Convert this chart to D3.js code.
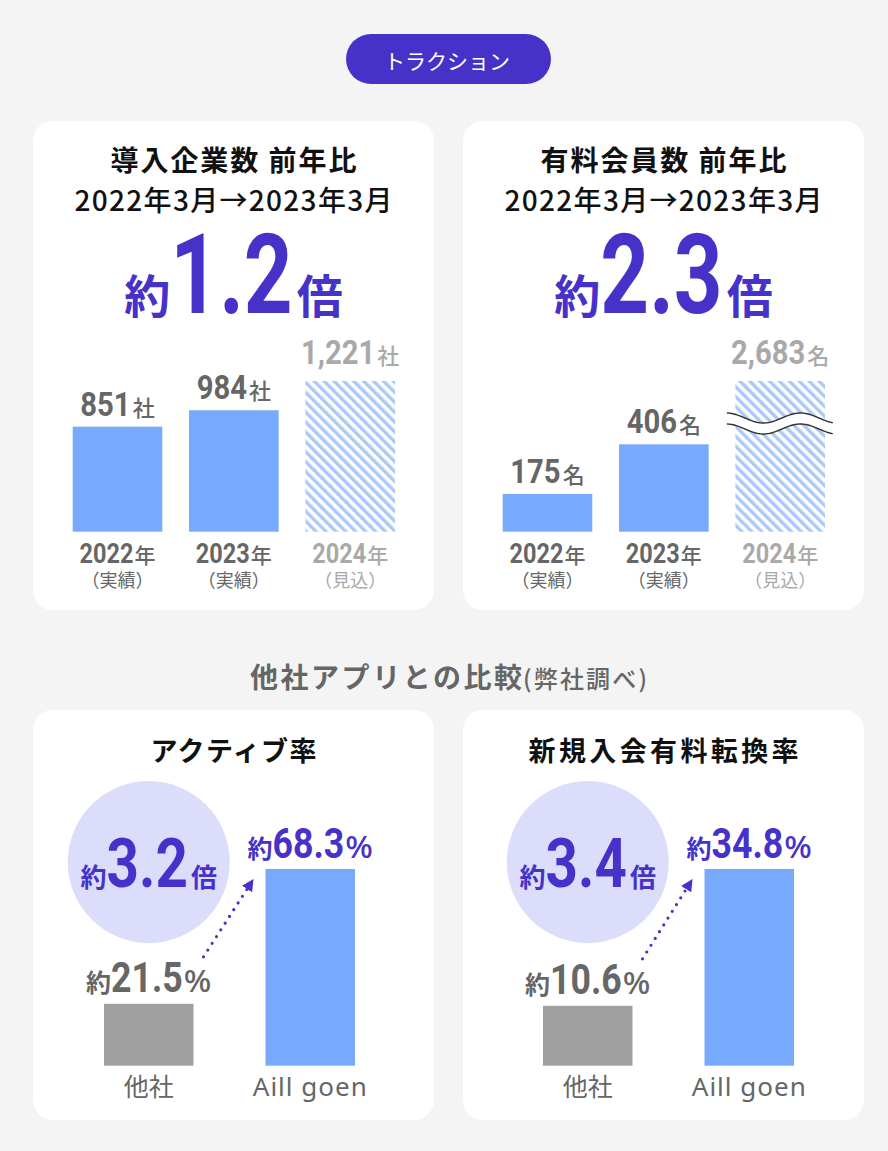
<!DOCTYPE html>
<html><head><meta charset="utf-8">
<script src="https://cdn.jsdelivr.net/npm/d3@7"></script>
<style>html,body{margin:0;padding:0;background:#f4f4f4;} svg{display:block}</style>
</head><body><svg id="c" width="888" height="1151"></svg>
<script>
// ---------- data ----------
const years = ["2022", "2023", "2024"];
const yearNotes = ["（実績）", "（実績）", "（見込）"];
const isEstimate = [false, false, true];
const companies = [851, 984, 1221];
const members = [175, 406, 2683];
const tractionTitles = ["導入企業数 前年比", "有料会員数 前年比"];
const periodLabel = "2022年3月→2023年3月";
const tractionMultipliers = ["1.2", "2.3"];
const tractionUnits = ["社", "名"];
const compareCats = ["他社", "Aill goen"];
const activeRate = [21.5, 68.3];
const conversionRate = [10.6, 34.8];
const compareTitles = ["アクティブ率", "新規入会有料転換率"];
const compareMultipliers = ["3.2", "3.4"];

// ---------- style ----------
const JP = '"Noto Sans CJK JP", "Noto Sans", sans-serif';
const NUM = 'Roboto, "Noto Sans", sans-serif';
const PURPLE = "#4632c8";
const BLUE = "#77a9fd";
const GRAY_TXT = "#666666";
const LIGHT_TXT = "#a9a9a9";

const svg = d3.select("#c");
svg.append("rect").attr("width", 888).attr("height", 1151).attr("fill", "#f4f4f4");

const defs = svg.append("defs");
const pat = defs.append("pattern").attr("id", "hatch").attr("patternUnits", "userSpaceOnUse")
  .attr("width", 7).attr("height", 7).attr("patternTransform", "rotate(-45)");
pat.append("rect").attr("width", 7).attr("height", 7).attr("fill", "#ffffff");
pat.append("rect").attr("width", 3.4).attr("height", 7).attr("fill", "#abc8fb");
defs.append("marker").attr("id", "arrowHead").attr("viewBox", "0 0 10 10").attr("refX", 10).attr("refY", 5)
  .attr("markerWidth", 12).attr("markerHeight", 12).attr("markerUnits", "userSpaceOnUse").attr("orient", "auto")
  .append("path").attr("d", "M0,0 L10,5 L0,10 Z").attr("fill", PURPLE);

function rich(parent, x, y, parts, anchor) {
  const g = parent.append("g");
  let cx = 0;
  parts.forEach(p => {
    cx += (p.gap || 0);
    const t = g.append("text").text(p.t)
      .style("font-family", p.f).style("font-size", p.s + "px").style("font-weight", p.w || 400)
      .attr("fill", p.c);
    let w;
    if (p.len) { t.attr("textLength", p.len).attr("lengthAdjust", "spacing"); w = p.len; }
    else w = t.node().getComputedTextLength();
    const sx = p.sx || 1;
    t.attr("transform", `translate(${cx},0) scale(${sx},1)`);
    cx += w * sx;
  });
  const off = anchor === "start" ? 0 : anchor === "end" ? -cx : -cx / 2;
  g.attr("transform", `translate(${x + off},${y})`);
  return g;
}

// ---------- header pill ----------
svg.append("rect").attr("x", 346).attr("y", 34).attr("width", 205).attr("height", 50).attr("rx", 25).attr("fill", PURPLE);
svg.append("text").attr("x", 447).attr("y", 68.5).attr("text-anchor", "middle")
  .style("font-family", JP).style("font-size", "21px").style("font-weight", 400).attr("fill", "#fff").text("トラクション");

// ---------- panels ----------
const panels = [[33, 121, 401, 489], [463, 121, 401, 489], [33, 710, 401, 410], [463, 710, 401, 410]];
svg.selectAll("rect.panel").data(panels).join("rect").attr("class", "panel")
  .attr("x", d => d[0]).attr("y", d => d[1]).attr("width", d => d[2]).attr("height", d => d[3])
  .attr("rx", 20).attr("fill", "#ffffff");

const fmt = d3.format(",");

function traction(i, values, yMax) {
  const px = panels[i][0];
  const cx = px + 200.5;
  const g = svg.append("g");
  g.append("text").attr("x", cx - 123).attr("y", 171).attr("textLength", 246).attr("lengthAdjust", "spacing")
    .style("font-family", JP).style("font-size", "28px").style("font-weight", 700).attr("fill", "#111")
    .text(tractionTitles[i]);
  g.append("text").attr("x", cx - 159).attr("y", 211).attr("textLength", 318).attr("lengthAdjust", "spacing")
    .style("font-family", JP).style("font-size", "28px").style("font-weight", 500).attr("fill", "#111")
    .text(periodLabel);
  rich(g, cx, 313, [
    { t: "約", f: JP, s: 46, w: 700, c: PURPLE },
    { t: tractionMultipliers[i], f: NUM, s: 112, w: 700, c: PURPLE, sx: 0.76 },
    { t: "倍", f: JP, s: 46, w: 700, c: PURPLE, gap: 4 }
  ]);

  const x = d3.scaleBand().domain(years).range([px + 39.7, px + 362]).paddingInner(0.23).paddingOuter(0);
  const y = d3.scaleLinear().domain([0, yMax]).range([531.7, 381]).clamp(true);
  const bw = x.bandwidth();
  years.forEach((yr, j) => {
    const v = values[j];
    const est = isEstimate[j];
    g.append("rect").attr("x", x(yr)).attr("y", y(v)).attr("width", bw).attr("height", y(0) - y(v))
      .attr("fill", est ? "url(#hatch)" : BLUE);
    const col = est ? LIGHT_TXT : GRAY_TXT;
    const bx = x(yr) + bw / 2;
    rich(g, bx, y(v) - (est ? 17 : 11), [
      { t: fmt(v), f: NUM, s: 34, w: 700, c: col, sx: 0.86 },
      { t: tractionUnits[i], f: JP, s: 22, w: 500, c: col, gap: 2 }
    ]);
    rich(g, bx, 563, [
      { t: yr, f: NUM, s: 28, w: 700, c: col, sx: 0.84 },
      { t: "年", f: JP, s: 21, w: 500, c: col, gap: 1 }
    ]);
    g.append("text").attr("x", bx).attr("y", 587).attr("text-anchor", "middle")
      .style("font-family", JP).style("font-size", "18px").style("font-weight", 400).attr("fill", col)
      .text(yearNotes[j]);
    if (v > yMax) {
      const yb = y(yMax) + 37;
      const x0 = x(yr) - 8.5, x1 = x(yr) + bw + 8.5;
      const pts = d3.range(x0, x1 + 0.1, 1).map(xx => [xx, yb + 5 * Math.cos(2 * Math.PI * (xx - (x(yr) + 28)) / 74)]);
      const top = d3.line()(pts);
      const bot = d3.line()(pts.map(p => [p[0], p[1] + 11]));
      const area = d3.area().x(p => p[0]).y0(p => p[1]).y1(p => p[1] + 11)(pts);
      g.append("path").attr("d", area).attr("fill", "#fff");
      g.append("path").attr("d", top).attr("fill", "none").attr("stroke", "#333").attr("stroke-width", 1.4);
      g.append("path").attr("d", bot).attr("fill", "none").attr("stroke", "#333").attr("stroke-width", 1.4);
    }
  });
}
traction(0, companies, 1221);
traction(1, members, 700);

// ---------- section title ----------
rich(svg, 448.5, 688, [
  { t: "他社アプリとの比較", f: JP, s: 28, w: 700, c: GRAY_TXT, len: 272 },
  { t: "(弊社調べ)", f: JP, s: 24, w: 500, c: GRAY_TXT, gap: 1, len: 124 }
]);

// ---------- comparison panels ----------
function compare(i, values, r0, r1, titleLen) {
  const px = panels[i + 2][0];
  const cx = px + 200.5;
  const g = svg.append("g");
  g.append("text").attr("x", cx - titleLen / 2).attr("y", 761).attr("textLength", titleLen).attr("lengthAdjust", "spacing")
    .style("font-family", JP).style("font-size", "27px").style("font-weight", 700).attr("fill", "#111")
    .text(compareTitles[i]);
  const x = d3.scaleBand().domain(compareCats).range([px + r0, px + r1]).paddingInner(0.446).paddingOuter(0);
  const y = d3.scaleLinear().domain([0, d3.max(values)]).range([1065.7, 869]);
  const bw = x.bandwidth();
  const c0 = x(compareCats[0]) + bw / 2;

  g.append("circle").attr("cx", c0).attr("cy", 862).attr("r", 81).attr("fill", "#dcdcfb");
  rich(g, c0, 887, [
    { t: "約", f: JP, s: 26, w: 700, c: PURPLE },
    { t: compareMultipliers[i], f: NUM, s: 69, w: 700, c: PURPLE, sx: 0.82 },
    { t: "倍", f: JP, s: 26, w: 700, c: PURPLE, gap: 3 }
  ]);

  compareCats.forEach((cat, j) => {
    const v = values[j];
    g.append("rect").attr("x", x(cat)).attr("y", y(v)).attr("width", bw).attr("height", y(0) - y(v))
      .attr("fill", j === 0 ? "#a0a0a0" : BLUE);
    const col = j === 0 ? GRAY_TXT : PURPLE;
    rich(g, x(cat) + bw / 2, y(v) - 11.5, [
      { t: "約", f: JP, s: 25, w: 700, c: col },
      { t: d3.format(".1f")(v), f: NUM, s: 43, w: 700, c: col, sx: 0.83 },
      { t: "%", f: '"Noto Sans", sans-serif', s: 30, w: 500, c: col, sx: 1.08, gap: 1 }
    ]);
    g.append("text").attr("x", x(cat) + bw / 2).attr("y", 1096).attr("text-anchor", "middle")
      .style("font-family", j === 0 ? JP : '"Noto Sans", sans-serif').style("font-size", j === 0 ? "25px" : "26px")
      .style("letter-spacing", j === 0 ? "0px" : "1px")
      .style("font-weight", 400).attr("fill", GRAY_TXT).text(cat);
  });

  const sx = x(compareCats[0]) + bw + 10, sy = y(values[0]) - 47;
  const ex = x(compareCats[1]) - 12, ey = y(values[1]) + 10;
  g.append("line").attr("x1", sx).attr("y1", sy).attr("x2", ex).attr("y2", ey)
    .attr("stroke", PURPLE).attr("stroke-width", 3.2).attr("stroke-linecap", "round")
    .attr("stroke-dasharray", "0 8").attr("marker-end", "url(#arrowHead)");
}
compare(0, activeRate, 71, 322, 166);
compare(1, conversionRate, 80, 331, 270);
</script></body></html>
